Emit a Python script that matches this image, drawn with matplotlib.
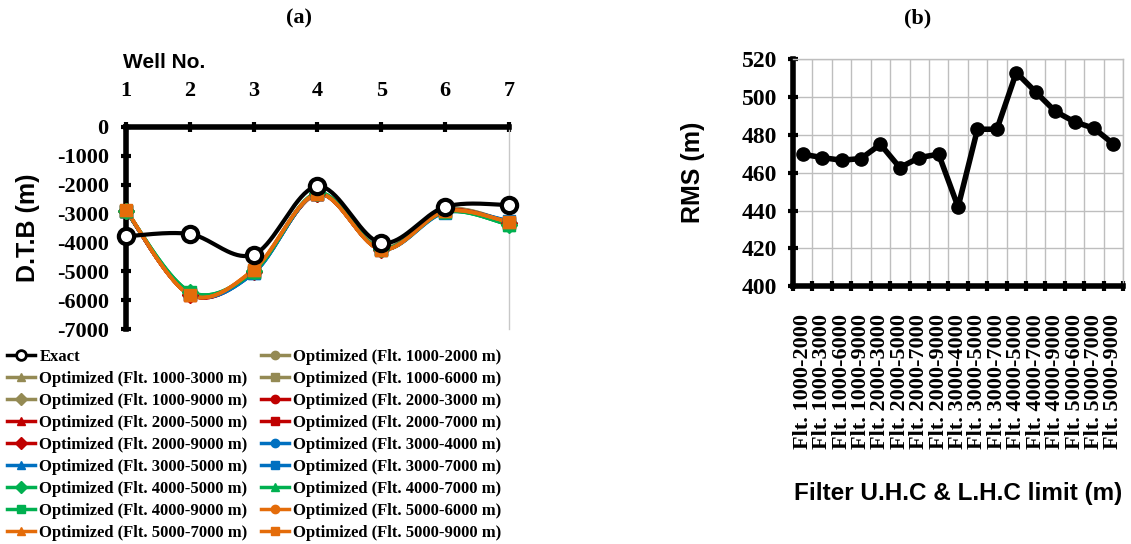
import numpy as np
import matplotlib
matplotlib.use("Agg")
import matplotlib.pyplot as plt
from matplotlib.ticker import FixedLocator, NullFormatter, FixedFormatter

plt.rcParams["axes.unicode_minus"] = False

# ---------------- data ----------------
wells = [1, 2, 3, 4, 5, 6, 7]
exact = [-3790, -3710, -4420, -2060, -4020, -2770, -2710]

opt_labels = ["1000-2000", "1000-3000", "1000-6000", "1000-9000",
              "2000-3000", "2000-5000", "2000-7000", "2000-9000",
              "3000-4000", "3000-5000", "3000-7000",
              "4000-5000", "4000-7000", "4000-9000",
              "5000-6000", "5000-7000", "5000-9000"]
opt_values = [
    [-2900, -5780, -4980, -2300, -4200, -2850, -3300],
    [-2900, -5790, -4990, -2310, -4210, -2860, -3310],
    [-2900, -5800, -5000, -2320, -4220, -2870, -3320],
    [-2900, -5800, -5000, -2330, -4230, -2880, -3330],
    [-2900, -5790, -5010, -2320, -4230, -2900, -3300],
    [-2900, -5800, -5020, -2330, -4240, -2910, -3310],
    [-2900, -5810, -5030, -2330, -4240, -2920, -3320],
    [-2900, -5810, -5030, -2340, -4250, -2930, -3330],
    [-2900, -5760, -5050, -2300, -4230, -2950, -3250],
    [-2900, -5770, -5060, -2310, -4240, -2960, -3260],
    [-2900, -5780, -5060, -2320, -4250, -2970, -3270],
    [-2900, -5700, -5000, -2280, -4220, -2930, -3400],
    [-2900, -5700, -5010, -2290, -4230, -2940, -3400],
    [-2900, -5720, -5010, -2300, -4240, -2950, -3390],
    [-2880, -5810, -4950, -2330, -4250, -2930, -3300],
    [-2870, -5810, -4940, -2320, -4250, -2920, -3300],
    [-2870, -5810, -4940, -2320, -4250, -2920, -3300],
]
opt_colors = ["#948A54"] * 4 + ["#C00000"] * 4 + ["#0070C0"] * 3 + ["#00B050"] * 3 + ["#E46C0A"] * 3
opt_markers = ["o", "^", "s", "D", "o", "^", "s", "D", "o", "^", "s", "D", "^", "s", "o", "^", "s"]

rms_categories = ["Flt. " + s for s in opt_labels]
rms_values = [469.8, 468.0, 466.6, 467.5, 475.0, 462.7, 468.0, 469.8, 441.9,
              483.0, 483.0, 513.0, 502.7, 492.5, 486.9, 483.5, 475.2]

# ---------------- helpers ----------------
def smooth_curve(x, y, n=40):
    """Excel-like smoothed line (Catmull-Rom Bezier)"""
    x = np.asarray(x, float)
    y = np.asarray(y, float)
    px = np.concatenate([[x[0]], x, [x[-1]]])
    py = np.concatenate([[y[0]], y, [y[-1]]])
    xs, ys = [], []
    t = np.linspace(0, 1, n)
    for i in range(1, len(px) - 2):
        p0 = np.array([px[i], py[i]])
        p3 = np.array([px[i + 1], py[i + 1]])
        c1 = p0 + (np.array([px[i + 1], py[i + 1]]) - np.array([px[i - 1], py[i - 1]])) / 6.0
        c2 = p3 - (np.array([px[i + 2], py[i + 2]]) - np.array([px[i], py[i]])) / 6.0
        b = ((1 - t) ** 3)[:, None] * p0 + (3 * (1 - t) ** 2 * t)[:, None] * c1 + \
            (3 * (1 - t) * t ** 2)[:, None] * c2 + (t ** 3)[:, None] * p3
        xs.append(b[:, 0])
        ys.append(b[:, 1])
    return np.concatenate(xs), np.concatenate(ys)

SERIF = "Liberation Serif"
SANS = "Liberation Sans"

fig = plt.figure(figsize=(11.31, 5.44), dpi=100)

# ---------------- panel (a) ----------------
axa = fig.add_axes([0.1114, 0.395, 0.3386, 0.372])
handles = []
for vals, col, mk, lab in zip(opt_values, opt_colors, opt_markers, opt_labels):
    sx, sy = smooth_curve(wells, vals)
    axa.plot(sx, sy, color=col, lw=2.5, zorder=3, clip_on=False)
    ms = 9 if mk == "s" else 8
    axa.plot(wells, vals, ls="none", marker=mk, color=col, ms=ms, zorder=4, clip_on=False)
    handles.append(plt.Line2D([], [], color=col, lw=2.5, marker=mk, ms=6,
                              label="Optimized (Flt. %s m)" % lab))
sx, sy = smooth_curve(wells, exact)
axa.plot(sx, sy, color="black", lw=3, zorder=5, clip_on=False)
axa.plot(wells, exact, ls="none", marker="o", ms=11, mfc="white", mec="black", mew=3,
         zorder=6, clip_on=False)
h_exact = plt.Line2D([], [], color="black", lw=2.5, marker="o", ms=7, mfc="white",
                     mec="black", mew=2, label="Exact")

axa.set_xlim(1, 7)
axa.set_ylim(-7000, 0)
axa.set_yticks(np.arange(-7000, 1, 1000))
axa.set_xticks(wells)
axa.xaxis.tick_top()
axa.tick_params(axis="x", direction="inout", length=7, width=3, pad=15)
axa.tick_params(axis="y", direction="inout", length=7, width=3, pad=9)
for lab in axa.get_xticklabels() + axa.get_yticklabels():
    lab.set_fontfamily(SERIF)
    lab.set_fontweight("bold")
    lab.set_fontsize(16)
axa.spines["top"].set_linewidth(4)
axa.spines["left"].set_linewidth(4)
axa.spines["right"].set_color("#C8C8C8")
axa.spines["right"].set_linewidth(1)
axa.spines["bottom"].set_visible(False)
axa.set_ylabel("D.T.B (m)", fontfamily=SANS, fontweight="bold", fontsize=18, labelpad=12)

fig.text(123 / 1131, 1 - 62 / 544, "Well No.", fontfamily=SANS,
         fontweight="bold", fontsize=15, ha="left", va="center")
fig.text(299 / 1131, 1 - 18 / 544, "(a)", fontfamily=SERIF, fontweight="bold",
         fontsize=16, ha="center", va="center")

# legend (row-major order like Excel)
all_h = [h_exact] + handles
ordered = all_h[0::2] + all_h[1::2]
leg = fig.legend(handles=ordered, loc="upper left", bbox_to_anchor=(0.006, 1 - 349 / 544),
                 ncol=2, frameon=False, numpoints=1, handlelength=1.7, handletextpad=0.25,
                 columnspacing=0.8, labelspacing=0.36, borderpad=0, borderaxespad=0,
                 prop={"family": SERIF, "weight": "bold", "size": 12})

# ---------------- panel (b) ----------------
axb = fig.add_axes([0.7012, 0.474, 0.2918, 0.417])
xpos = np.arange(len(rms_values))
axb.plot(xpos, rms_values, color="black", lw=4, marker="o", ms=9.5, zorder=5, clip_on=False)
axb.set_xlim(-0.5, len(rms_values) - 0.5)
axb.set_ylim(400, 520)
axb.set_yticks(np.arange(400, 521, 20))
bounds = np.arange(-0.5, len(rms_values), 1.0)
axb.xaxis.set_major_locator(FixedLocator(bounds))
axb.xaxis.set_major_formatter(NullFormatter())
axb.xaxis.set_minor_locator(FixedLocator(xpos))
axb.xaxis.set_minor_formatter(FixedFormatter(rms_categories))
axb.grid(True, which="major", color="#BEBEBE", lw=1)
axb.set_axisbelow(True)
axb.tick_params(axis="x", which="major", direction="inout", length=7, width=3)
axb.tick_params(axis="x", which="minor", length=0, pad=20)
axb.tick_params(axis="y", direction="inout", length=7, width=3, pad=8)
for lab in axb.get_xticklabels(minor=True):
    lab.set_fontfamily(SERIF)
    lab.set_fontweight("bold")
    lab.set_fontsize(16)
    lab.set_rotation(90)
for lab in axb.get_yticklabels():
    lab.set_fontfamily(SERIF)
    lab.set_fontweight("bold")
    lab.set_fontsize(17)
axb.spines["left"].set_linewidth(4)
axb.spines["bottom"].set_linewidth(4)
for s in ["top", "right"]:
    axb.spines[s].set_color("#BEBEBE")
    axb.spines[s].set_linewidth(1)
axb.set_ylabel("RMS (m)", fontfamily=SANS, fontweight="bold", fontsize=18, labelpad=26)
axb.set_xlabel("Filter U.H.C & L.H.C limit (m)", fontfamily=SANS, fontweight="bold",
               fontsize=17.5, labelpad=24)
fig.text(918 / 1131, 1 - 18 / 544, "(b)", fontfamily=SERIF, fontweight="bold",
         fontsize=16, ha="center", va="center")

fig.savefig("out.png", dpi=100)
